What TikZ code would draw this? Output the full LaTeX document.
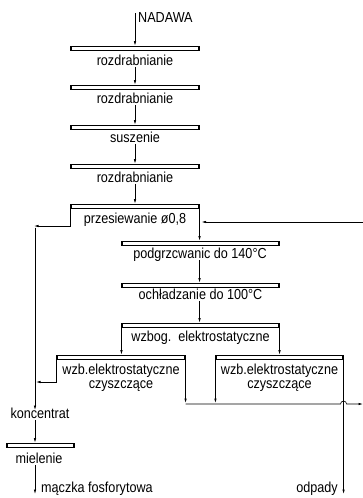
\documentclass[tikz,border=0pt]{standalone}
\usepackage{fontspec}
\setmainfont{Liberation Sans}[FakeStretch=0.87]
\usetikzlibrary{arrows.meta}
\begin{document}
\begin{tikzpicture}[x=1pt,y=-1pt,
  bar/.style={draw,line width=1.1pt,fill=white,minimum height=4.5pt,inner sep=0pt},
  lbl/.style={font=\fontsize{14.5}{12}\selectfont,inner sep=1pt,text height=7.5pt,text depth=0pt},
  lbl2/.style={font=\fontsize{14.5}{13.5}\selectfont,inner sep=0pt,align=center},
  link/.style={line width=0.6pt},
  arr/.style={link,-{Latex[length=4.5pt,width=2.4pt]}}]
\useasboundingbox (0,0) rectangle (363,498);

% process bars
\node[bar,minimum width=128pt] (b1) at (135,48.5) {};
\node[bar,minimum width=128pt] (b2) at (135,87.5) {};
\node[bar,minimum width=128pt] (b3) at (135,127.5) {};
\node[bar,minimum width=128pt] (b4) at (135,166.5) {};
\node[bar,minimum width=128pt] (b5) at (135,206.5) {};
\node[bar,minimum width=157pt] (b6) at (200.5,243.5) {};
\node[bar,minimum width=157pt] (b7) at (200.5,285.5) {};
\node[bar,minimum width=157pt] (b8) at (200.5,325.5) {};
\node[bar,minimum width=128pt] (b9) at (121,357.5) {};
\node[bar,minimum width=127pt] (b10) at (279.5,357.5) {};
\node[bar,minimum width=67pt] (b11) at (40.5,445.5) {};

% labels
\node[lbl,anchor=west] (nad) at (137,19) {NADAWA};
\node[lbl] (t1) at (135,62) {rozdrabnianie};
\node[lbl] (t2) at (135,100) {rozdrabnianie};
\node[lbl] (t3) at (135,139) {suszenie};
\node[lbl] (t4) at (135,179) {rozdrabnianie};
\node[lbl] (t5) at (135,220) {przesiewanie ø0,8};
\node[lbl] (t6) at (200,255) {podgrzcwanic do 140°C};
\node[lbl] (t7) at (200.5,296) {ochładzanie do 100°C};
\node[lbl] (t8) at (200.5,338) {wzbog.\ \ elektrostatyczne};
\node[lbl2] (t9) at (121,378) {wzb.elektrostatyczne\\czyszczące};
\node[lbl2] (t10) at (279.5,378) {wzb.elektrostatyczne\\czyszczące};
\node[lbl] (konc) at (40,415) {koncentrat};
\node[lbl] (miel) at (39,460) {mielenie};
\node[lbl,anchor=west] (mf) at (40,489) {mączka fosforytowa};
\node[lbl,anchor=east] (odp) at (339,489) {odpady};

% free ends of the flow lines
\coordinate (feed) at (135,13);
\coordinate (k1) at (35,226);
\coordinate (k2) at (35,382);
\coordinate (rec) at (363,222);
\coordinate (wl) at (363,404);
\coordinate (out1) at (35,494);
\coordinate (out2) at (b10.south east |- out1);

% main line
\draw[arr] (feed) -- (b1.north);
\draw[arr] (t1.south) -- (b2.north);
\draw[arr] (t2.south) -- (b3.north);
\draw[arr] (t3.south) -- (b4.north);
\draw[arr] (t4.south) -- (b5.north);
\draw[arr] (b5.south east) -- (b5.south east |- b6.north);
\draw[arr] (rec) -- ([xshift=2pt]b5.south east |- rec);
\draw[arr] (t6.south -| b5.south east) -- (b5.south east |- b7.north);
\draw[arr] (t7.south -| b5.south east) -- (b5.south east |- b8.north);
\draw[arr] (b8.south west) -- (b8.south west |- b9.north);
\draw[arr] (b8.south east) -- (b8.south east |- b10.north);

% concentrate branch
\draw[arr] (b5.south west) |- ([xshift=-1pt]k1);
\draw[arr] ([yshift=-1.5pt]k1) -- (k1 |- konc.north);
\draw[arr] (b9.south west) |- ([xshift=1pt]k2);
\draw[arr] (k1 |- konc.south) -- (k1 |- b11.north);
\draw[arr] (k1 |- miel.south) -- (out1);

% waste collector
\draw[arr] (b9.south east) -- ([yshift=1pt]b9.south east |- wl);
\draw[arr] (b10.south west) -- ([yshift=1pt]b10.south west |- wl);
\draw[arr] (b9.south east |- wl) -- ([xshift=-3pt]b10.south east |- wl)
  arc[start angle=180,end angle=0,radius=3pt] -- (wl);
\draw[arr] (b10.south east) -- (out2);
\end{tikzpicture}
\end{document}
